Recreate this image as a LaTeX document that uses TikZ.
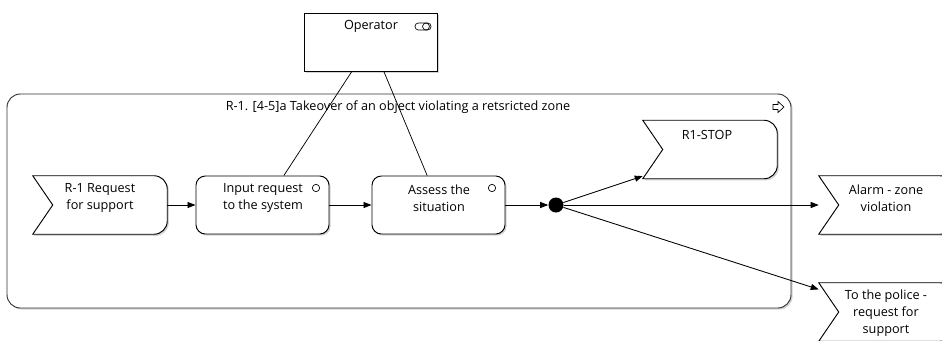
\documentclass[tikz,border=0pt]{standalone}
\usepackage{fontspec}
\setmainfont{Open Sans}
\usetikzlibrary{arrows.meta,shadows}

\tikzset{
  txt/.style={font=\fontsize{9.5}{12.75}\selectfont, align=center, inner sep=0pt},
  shade box/.style={drop shadow={shadow xshift=1.2pt, shadow yshift=-1.2pt, opacity=0.35}},
  task/.style={draw, rounded corners=7pt, fill=white, line width=0.7pt,
    minimum width=99.75pt, minimum height=43.5pt, shade box},
  evt/.style={minimum width=100.5pt, minimum height=43.5pt, inner sep=0pt},
  flow/.style={-{Triangle[length=6pt,width=4.5pt]}, line width=0.65pt},
  link/.style={line width=0.55pt},
  knob/.style={circle, draw, line width=0.5pt, minimum size=5.5pt, inner sep=0pt},
}

% notched event outline round a node
\newcommand\evtoutline[1]{%
  \draw[line width=0.7pt, fill=white, shade box]
    (#1.north west) -- ([xshift=-10pt]#1.north east)
    arc[start angle=90, end angle=0, radius=10pt]
    -- ([yshift=10pt]#1.south east)
    arc[start angle=0, end angle=-90, radius=10pt]
    -- (#1.south west) -- ([xshift=15pt]#1.west) -- cycle;}

\begin{document}
\begin{tikzpicture}[x=0.75pt,y=-0.75pt]
\clip (0,0) rectangle (942,340);

% process frame
\node[draw=black!80, rounded corners=10pt, line width=0.7pt, fill=white, shade box,
      minimum width=588pt, minimum height=160.5pt] (zone) at (399,201) {};
\node[txt] (zone-t) at (398,107) {R-1. [4-5]a Takeover of an object violating a retsricted zone};
\draw[line width=0.5pt] (773,104.5) -- (778,104.5) -- (778,101.5) -- (784,107)
      -- (778,112.5) -- (778,109.5) -- (773,109.5) -- cycle;

% role
\node[task, rounded corners=0pt] (operator) at (370.5,42) {};
\node[txt] (operator-t) at (371,26) {Operator};
\draw[line width=0.5pt, rounded corners=2.5pt] (415,23) rectangle (431,30);
\draw[line width=0.5pt] (426,26.5) circle (2.6pt);

% events and tasks
\node[evt] (req) at (100,205) {};
\evtoutline{req}
\node[txt] (req-t) at (100,198) {R-1 Request\\for support};

\node[task] (input) at (262.5,205) {};
\node[txt] (input-t) at (263,198) {Input request\\to the system};
\node[knob] (input-k) at (316,188) {};

\node[task] (assess) at (438.5,205) {};
\node[txt] (assess-t) at (439,198) {Assess the\\situation};
\node[knob] (assess-k) at (492,188) {};

\node[circle, fill=black, minimum size=11.25pt, inner sep=0pt] (fork) at (556,205) {};

\node[evt] (stop) at (710,149.5) {};
\evtoutline{stop}
\node[txt] (stop-t) at (707,135) {R1-STOP};

\node[evt] (alarm) at (886,205) {};
\evtoutline{alarm}
\node[txt] (alarm-t) at (886,198) {Alarm - zone\\violation};

\node[evt] (police) at (886,312) {};
\evtoutline{police}
\node[txt] (police-t) at (886,313) {To the police -\\request for\\support};

% role links
\draw[link] ([xshift=-14pt]operator.south) -- ([xshift=16pt]input.north);
\draw[link] ([xshift=10pt]operator.south) -- ([xshift=-8.5pt]assess.north);

% flow
\draw[flow] (req) -- (input);
\draw[flow] (input) -- (assess);
\draw[flow] (assess) -- (fork);
\draw[flow] (fork) -- ([yshift=2pt]stop.south west);
\draw[flow] (fork) -- (alarm);
\draw[flow] (fork) -- ([yshift=-5pt]police.north west);
\end{tikzpicture}
\end{document}
